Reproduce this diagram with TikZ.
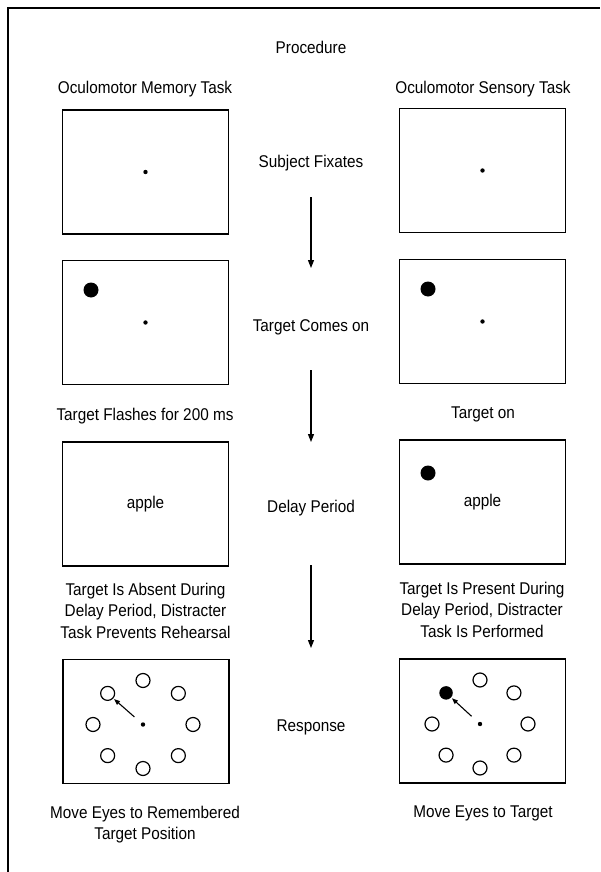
\documentclass[tikz,border=0pt]{standalone}
\usepackage{fontspec}
\setmainfont{Liberation Sans}[FakeStretch=0.9]
\usetikzlibrary{arrows.meta}
\tikzset{
    x=1pt, y=1pt,
    frame/.style={line width=1.2pt},
    screen/.style={draw, line width=1.3pt, minimum width=166pt,
                   minimum height=124pt, inner sep=0pt},
    fixdot/.style={circle, fill, inner sep=0pt, minimum size=4.4pt},
    target/.style={circle, fill, inner sep=0pt, minimum size=15pt},
    choice/.style={circle, draw, line width=1.2pt, inner sep=0pt,
                   minimum size=14pt},
    lbl/.style={align=center, inner sep=0pt},
    flow/.style={-{Triangle[length=8pt,width=6pt]}, line width=1.1pt},
    gaze/.style={-{Triangle[length=6pt,width=4.5pt]}, line width=1.1pt},
}
% eight saccade targets on an ellipse round a fixation point
\newcommand{\ringround}[3]{%
    \foreach \a in {#3}
        \node[choice] (#1\a) at ([shift={({#2*cos(\a)},{44*sin(\a)})}]#1) {};
}

\begin{document}
\begin{tikzpicture}[font=\fontsize{17}{21.5}\selectfont]
    \useasboundingbox (0,0) rectangle (600,-872);
    \draw[frame] (8,-872) -- (8,-8) -- (600,-8);

    \node[lbl] (proc) at (311,-47) {Procedure};
    \node[lbl] (memT) at (145,-89) {Oculomotor Memory Task};
    \node[lbl] (senT) at (483,-89) {Oculomotor Sensory Task};

    % middle column: the stages
    \node[lbl] (fix)   at (311,-163) {Subject Fixates};
    \node[lbl] (on)    at (311,-327) {Target Comes on};
    \node[lbl] (delay) at (311,-508) {Delay Period};
    \node[lbl] (resp)  at (311,-727) {Response};

    \draw[flow] ([yshift=-34pt]fix.center) -- ([yshift=59pt]on.center);
    \draw[flow] ([yshift=-43pt]on.center) -- ([yshift=66pt]delay.center);
    \draw[flow] ([yshift=-57pt]delay.center) -- ([yshift=79pt]resp.center);

    % memory task
    \node[screen] (memA) at (145.5,-172) {};
    \node[fixdot] (memAfix) at (memA.center) {};

    \node[screen] (memB) at (145.5,-322.5) {};
    \node[fixdot] (memBfix) at (memB.center) {};
    \node[target] (memBtgt) at ([shift={(-54.5,32.5)}]memB.center) {};
    \node[lbl] (memBcap) at (145,-416) {Target Flashes for 200 ms};

    \node[screen] (memC) at (145.5,-504) {apple};
    \node[lbl] (memCcap) at (145.5,-610.5)
        {Target Is Absent During\\Delay Period, Distracter\\Task Prevents Rehearsal};

    \node[screen] (memD) at (146,-721.5) {};
    \node[fixdot] (memDfix) at ([shift={(-3,-3)}]memD.center) {};
    \ringround{memDfix}{50}{0,45,...,315}
    \draw[gaze, shorten <=9pt, shorten >=1pt] (memDfix) -- (memDfix135);
    \node[lbl] (memDcap) at (145,-824.5) {Move Eyes to Remembered\\Target Position};

    % sensory task
    \node[screen] (senA) at (482.5,-170.5) {};
    \node[fixdot] (senAfix) at (senA.center) {};

    \node[screen] (senB) at (482.5,-321.5) {};
    \node[fixdot] (senBfix) at (senB.center) {};
    \node[target] (senBtgt) at ([shift={(-54.5,32.5)}]senB.center) {};
    \node[lbl] (senBcap) at (483,-414) {Target on};

    \node[screen] (senC) at (482.5,-502) {apple};
    \node[target] (senCtgt) at ([shift={(-54.5,29)}]senC.center) {};
    \node[lbl] (senCcap) at (482,-609.5)
        {Target Is Present During\\Delay Period, Distracter\\Task Is Performed};

    \node[screen] (senD) at (482.5,-721) {};
    \node[fixdot] (senDfix) at ([shift={(-2.5,-3)}]senD.center) {};
    \ringround{senDfix}{48}{0,45,90,180,225,270,315}
    \node[target, minimum size=13.5pt] (senDfix135)
        at ([shift={({48*cos(135)},{44*sin(135)})}]senDfix) {};
    \draw[gaze, shorten <=9pt, shorten >=1pt] (senDfix) -- (senDfix135);
    \node[lbl] (senDcap) at (483,-813) {Move Eyes to Target};
\end{tikzpicture}
\end{document}
